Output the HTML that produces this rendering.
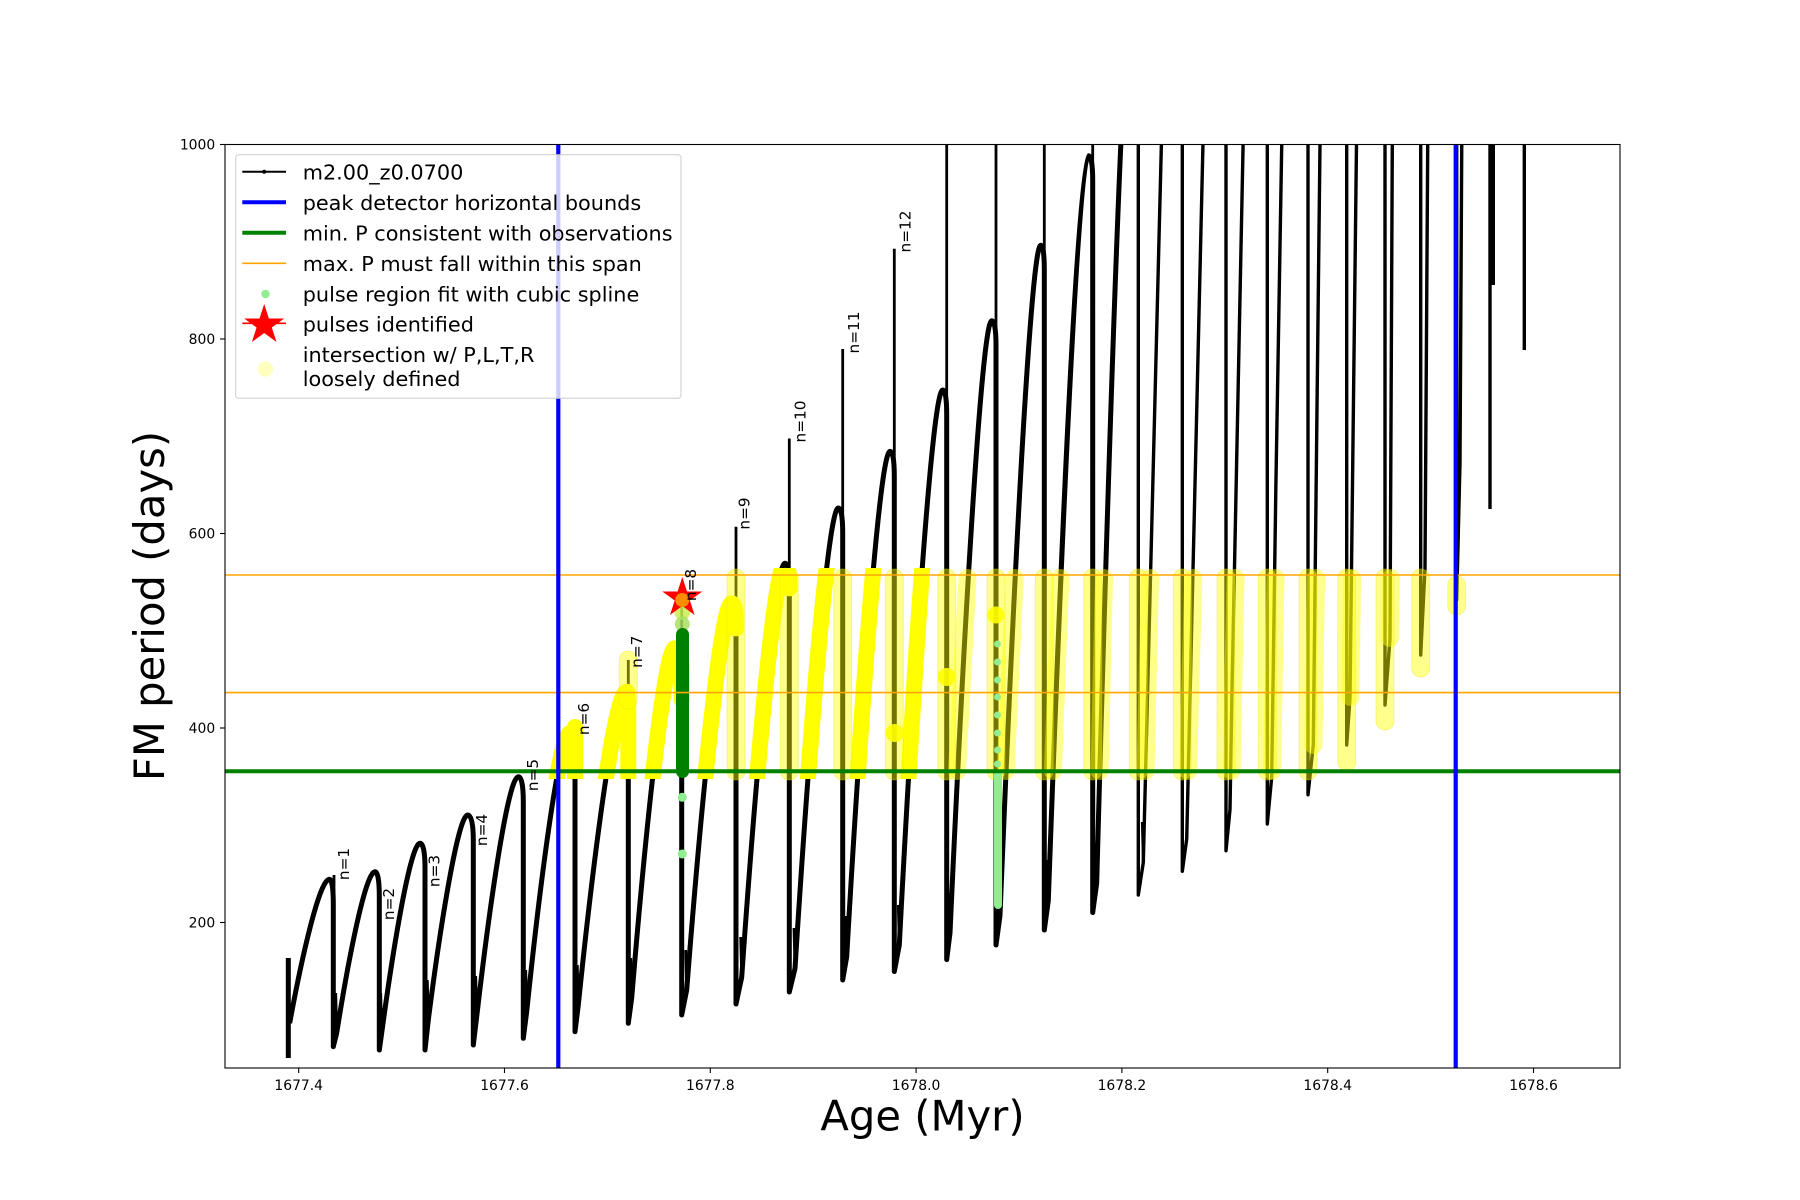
<!DOCTYPE html>
<html><head><meta charset="utf-8"><style>
html,body{margin:0;padding:0;background:#fff;}
svg{display:block;}
text{font-family:"DejaVu Sans","Liberation Sans",sans-serif;}
</style></head><body>
<svg width="1800" height="1200" viewBox="0 0 1800 1200" xmlns="http://www.w3.org/2000/svg">
<defs>
<clipPath id="ax"><rect x="225" y="144.5" width="1395" height="923.5"/></clipPath>
<clipPath id="band"><rect x="225" y="568" width="1395" height="211"/></clipPath>
</defs>
<rect width="1800" height="1200" fill="#fff"/>
<g clip-path="url(#ax)">
<path fill="none" stroke="#000" stroke-width="5" stroke-linejoin="round" d="M 288.3 958 L 288.3 1058 M 289.7 1023 C 301.6 958.3 319.4 879.3 329.3 879.3 C 331.7 879.3 333.3 887.3 333.3 904.3 L 333.3 1046.7 L 336.7 1033 C 348.2 960.4 365.4 871.7 375 871.7 C 377.6 871.7 379.3 879.7 379.3 896.7 L 379.3 1050 L 381.7 1033 C 393.2 947.6 410.4 843.3 420 843.3 C 423 843.3 425 851.3 425 868.3 L 425 1050 L 428.3 1020 C 440.1 927.8 457.9 815 467.7 815 C 471.1 815 473.3 823 473.3 840 L 473.3 1045 L 476.7 1016.7 C 489.2 908.7 507.9 776.7 518.3 776.7 C 521.3 776.7 523.3 784.7 523.3 801.7 L 523.3 1038.3 L 526.7 1011.7 C 539.7 886.4 559.2 733.3 570 733.3 C 573 733.3 575 741.3 575 758.3 L 575 1031.7 L 578.3 1005 C 592.8 864 614.6 691.7 626.7 691.7 C 627.7 691.7 628.3 699.7 628.3 716.7 L 628.3 1023.3 L 631.7 998 C 644.7 840.6 664.2 648.3 675 648.3 C 679 648.3 681.7 656.3 681.7 673.3 L 681.7 1015 L 686.7 990 C 700.2 816 720.5 603.4 731.7 603.4 C 734.3 603.4 736 611.4 736 628.4 L 736 1004 L 741.7 977.3 C 754.7 791 774.2 563.3 785 563.3 C 787.6 563.3 789.3 571.3 789.3 588.3 L 789.3 992 L 795 968.5 C 808 761.3 827.5 508 838.3 508 C 840.9 508 842.7 516 842.7 533 L 842.7 980 L 846.7 956.7 C 859.7 729.3 879.2 451.4 890 451.4 C 892.6 451.4 894.3 459.4 894.3 476.4 L 894.3 971.5 L 899.3 945 C 912.3 695.3 931.9 390 942.7 390 C 945.1 390 946.7 398 946.7 415 L 946.7 959.6 L 950 933 C 962.5 657.5 981.3 320.7 991.7 320.7 C 994.3 320.7 996 328.7 996 345.7 L 996 945 L 1000 915.5 C 1012.2 613.9 1030.5 245.3 1040.7 245.3 C 1042.9 245.3 1044.3 253.3 1044.3 270.3 L 1044.3 930 L 1048.3 900.8 C 1060.3 565.6 1078.3 155.8 1088.3 155.8 C 1091 155.8 1092.7 163.8 1092.7 180.8 L 1092.7 912.5 L 1096.7 883 C 1106 540 1117 200 1125 60"/>
<path fill="none" stroke="#000" stroke-width="3.4" stroke-linejoin="round" d="M 1138.3 100 L 1138.3 895 L 1143.3 862.5 C 1150 520 1157 250 1163 80 M 1182.3 100 L 1182.3 871.3 L 1186.7 839 C 1192 560 1198 300 1204 100 M 1226 100 L 1226 850.7 L 1230 809.5 C 1234 560 1239 300 1244 100 M 1267.3 100 L 1267.3 824 L 1271.7 777 C 1275 560 1278 300 1282.5 100 M 1308 100 L 1308 794.8 L 1313.3 744.7 C 1315.5 560 1318 300 1320.5 100 M 1346.7 100 L 1346.7 745 L 1350 697.6 C 1352 500 1354 300 1357 100 M 1385 100 L 1385 705 L 1390 638.7 L 1392.5 100 M 1420.7 100 L 1420.7 655 L 1425 568 L 1428 100 M 1456.7 100 L 1456.7 600 L 1460 462 L 1462 100 M 1490 100 L 1490 509 M 1493.3 100 L 1493.3 285 M 1524.3 100 L 1524.3 350"/>
<path fill="none" stroke="#000" stroke-width="2.8" d="M 334 1040 L 334 875 M 575 758 L 575 727 M 628.3 716 L 628.3 660 M 681.7 673 L 681.7 600 M 736 630 L 736 526.8 M 789.3 590 L 789.3 438.5 M 842.7 535 L 842.7 349 M 894.3 480 L 894.3 248.8 M 946.7 415 L 946.7 100 M 996 345 L 996 100 M 1044.3 270 L 1044.3 100 M 1092.7 180 L 1092.7 100 M 335.7 993 L 336.7 1033 M 380.7 993 L 381.7 1033 M 427.3 980 L 428.3 1020 M 475.7 976 L 476.7 1016.7 M 525.7 970 L 526.7 1011.7 M 577.3 965 L 578.3 1005 M 630.7 958 L 631.7 998 M 685.7 950 L 686.7 990 M 740.7 937 L 741.7 977.3 M 794 928 L 795 968.5 M 845.7 916 L 846.7 956.7 M 898.3 905 L 899.3 945 M 949 893 L 950 933 M 999 875 L 1000 915.5 M 1047.3 860 L 1048.3 900.8 M 1095.7 843 L 1096.7 883 M 1142.3 822 L 1143.3 862.5"/>

<g clip-path="url(#band)">
<path fill="none" stroke="#ffff00" stroke-width="16" stroke-linecap="round" stroke-linejoin="round" d="M 526.7 1011.7 C 539.7 886.4 559.2 733.3 570 733.3 C 573 733.3 575 741.3 575 758.3 L 575 790 M 575 758 L 575 727 M 578.3 1005 C 592.8 864 614.6 691.7 626.7 691.7 C 627.7 691.7 628.3 699.7 628.3 716.7 L 628.3 790 M 631.7 998 C 644.7 840.6 664.2 648.3 675 648.3 C 679 648.3 681.7 656.3 681.7 673.3 L 681.7 700 M 686.7 990 C 700.2 816 720.5 603.4 731.7 603.4 C 734.3 603.4 736 611.4 736 628.4 M 741.7 977.3 C 754.7 791 774.2 563.3 785 563.3 C 787.6 563.3 789.3 571.3 789.3 588.3 M 795 968.5 C 808 761.3 827.5 508 838.3 508 M 846.7 956.7 C 859.7 729.3 879.2 451.4 890 451.4 M 899.3 945 C 912.3 695.3 931.9 390 942.7 390"/>
</g>

<g fill="#ffff00" fill-opacity="0.45" stroke="#e6e600" stroke-opacity="0.35" stroke-width="1">
<rect x="619.3" y="651" width="18" height="58" rx="9"/>
<rect x="727" y="569" width="18" height="211" rx="9"/>
<rect x="780.3" y="569" width="18" height="211" rx="9"/>
<rect x="833.7" y="569" width="18" height="211" rx="9"/>
<rect x="885.3" y="569" width="18" height="211" rx="9"/>
<rect x="937.7" y="569" width="18" height="211" rx="9"/>
<rect x="987" y="569" width="18" height="211" rx="9"/>
<rect x="1035.3" y="569" width="18" height="211" rx="9"/>
<rect x="1083.7" y="569" width="18" height="211" rx="9"/>
<rect x="1129.3" y="569" width="18" height="211" rx="9"/>
<rect x="1173.3" y="569" width="18" height="211" rx="9"/>
<rect x="1217" y="569" width="18" height="211" rx="9"/>
<rect x="1258.3" y="569" width="18" height="211" rx="9"/>
<rect x="1299" y="569" width="18" height="211" rx="9"/>
<rect x="1337.7" y="569" width="18" height="202" rx="9"/>
<rect x="1376" y="569" width="18" height="161" rx="9"/>
<rect x="1411.7" y="569" width="18" height="108" rx="9"/>
<rect x="1447.7" y="576" width="18" height="39" rx="9"/>
</g>
<g stroke="#ffff00" stroke-opacity="0.45" stroke-width="18" stroke-linecap="round" fill="none">
<path d="M 957 771 L 967.5 578"/>
<path d="M 1005.7 771 L 1014.7 578"/>
<path d="M 1052.9 771 L 1060.3 578"/>
<path d="M 1099.5 771 L 1104 578"/>
<path d="M 1145.5 771 L 1150 578"/>
<path d="M 1188 771 L 1193.3 578"/>
<path d="M 1231.5 771 L 1235.5 578"/>
<path d="M 1272 771 L 1275.5 578"/>
<path d="M 1313.5 745 L 1316 578"/>
<path d="M 1350.5 697 L 1352 578"/>
<path d="M 1390 638 L 1390.7 578"/>
</g>
<g fill="#ffff00" fill-opacity="0.9">
<circle cx="894.8" cy="733" r="9"/>
<circle cx="946.7" cy="677" r="9"/>
<circle cx="996" cy="615" r="8.5"/>
</g>
<g fill="#90ee90">
<circle cx="997.5" cy="644" r="3.5"/>
<circle cx="997.5" cy="662" r="3.5"/>
<circle cx="997.5" cy="680" r="3.5"/>
<circle cx="997.5" cy="697" r="3.5"/>
<circle cx="997.5" cy="715" r="3.5"/>
<circle cx="997.5" cy="733" r="3.5"/>
<circle cx="997.5" cy="750" r="3.5"/>
<circle cx="997.5" cy="764" r="3.5"/>
<rect x="994" y="771" width="8" height="138" rx="4"/>
<circle cx="682.3" cy="797.3" r="4.5"/>
<circle cx="682.3" cy="854" r="4.5"/>
</g>
<circle cx="682.3" cy="612" r="8" fill="#c8f050" fill-opacity="0.85"/>
<circle cx="682.3" cy="624" r="7.5" fill="#a8e060" fill-opacity="0.85"/>
<rect x="676" y="628" width="13" height="150" rx="6.5" fill="#008000"/>

<line x1="225" y1="575" x2="1620" y2="575" stroke="#ffa500" stroke-width="1.6"/>
<line x1="225" y1="692.6" x2="1620" y2="692.6" stroke="#ffa500" stroke-width="1.6"/>
<line x1="225" y1="771.2" x2="1620" y2="771.2" stroke="#008000" stroke-width="4"/>
<line x1="558.3" y1="144" x2="558.3" y2="1068" stroke="#0000ff" stroke-width="4.2"/>
<line x1="1455.7" y1="144" x2="1455.7" y2="1068" stroke="#0000ff" stroke-width="4.2"/>

<polygon points="682.3,577 687,591.5 702.3,591.5 689.9,600.5 694.6,615 682.3,606 670,615 674.7,600.5 662.3,591.5 677.6,591.5" fill="#ff0000"/>
<circle cx="682.3" cy="600" r="7" fill="#ffa500" fill-opacity="0.85"/>
</g>

<g font-size="15.3" fill="#000" text-anchor="middle">
<text transform="translate(348.8,864) rotate(-90)">n=1</text>
<text transform="translate(393.8,904) rotate(-90)">n=2</text>
<text transform="translate(439.5,871) rotate(-90)">n=3</text>
<text transform="translate(487.2,830) rotate(-90)">n=4</text>
<text transform="translate(537.8,775) rotate(-90)">n=5</text>
<text transform="translate(588.8,719) rotate(-90)">n=6</text>
<text transform="translate(642.2,651.7) rotate(-90)">n=7</text>
<text transform="translate(696.2,585) rotate(-90)">n=8</text>
<text transform="translate(749.5,513.5) rotate(-90)">n=9</text>
<text transform="translate(805.5,421.5) rotate(-90)">n=10</text>
<text transform="translate(858.8,332.5) rotate(-90)">n=11</text>
<text transform="translate(910.5,231.5) rotate(-90)">n=12</text>
</g>

<rect x="225" y="144.5" width="1395" height="923.5" fill="none" stroke="#000" stroke-width="1.1"/>
<g stroke="#000" stroke-width="1.1">
<line x1="298.7" y1="1068" x2="298.7" y2="1073"/>
<line x1="504.5" y1="1068" x2="504.5" y2="1073"/>
<line x1="710.3" y1="1068" x2="710.3" y2="1073"/>
<line x1="916.1" y1="1068" x2="916.1" y2="1073"/>
<line x1="1121.9" y1="1068" x2="1121.9" y2="1073"/>
<line x1="1327.7" y1="1068" x2="1327.7" y2="1073"/>
<line x1="1533.5" y1="1068" x2="1533.5" y2="1073"/>
<line x1="220" y1="144.5" x2="225" y2="144.5"/>
<line x1="220" y1="339" x2="225" y2="339"/>
<line x1="220" y1="533.5" x2="225" y2="533.5"/>
<line x1="220" y1="728" x2="225" y2="728"/>
<line x1="220" y1="922.5" x2="225" y2="922.5"/>
</g>
<g font-size="13.9" fill="#000" text-anchor="middle">
<text x="298.7" y="1090">1677.4</text>
<text x="504.5" y="1090">1677.6</text>
<text x="710.3" y="1090">1677.8</text>
<text x="916.1" y="1090">1678.0</text>
<text x="1121.9" y="1090">1678.2</text>
<text x="1327.7" y="1090">1678.4</text>
<text x="1533.5" y="1090">1678.6</text>
</g>
<g font-size="13.9" fill="#000" text-anchor="end">
<text x="215.2" y="149.5">1000</text>
<text x="215.2" y="344">800</text>
<text x="215.2" y="538.5">600</text>
<text x="215.2" y="733">400</text>
<text x="215.2" y="927.5">200</text>
</g>
<text x="922.5" y="1130.5" font-size="41.7" text-anchor="middle" fill="#000">Age (Myr)</text>
<text transform="translate(164,606) rotate(-90)" font-size="41.7" text-anchor="middle" fill="#000">FM period (days)</text>

<rect x="235.7" y="154.7" width="445.3" height="243.6" rx="3" fill="#fff" fill-opacity="0.8" stroke="#cccccc" stroke-width="1"/>
<line x1="242.3" y1="171.7" x2="286" y2="171.7" stroke="#000" stroke-width="2"/>
<circle cx="264.2" cy="171.7" r="2" fill="#000"/>
<line x1="242.3" y1="202.3" x2="286" y2="202.3" stroke="#0000ff" stroke-width="4"/>
<line x1="242.3" y1="232.7" x2="286" y2="232.7" stroke="#008000" stroke-width="4"/>
<line x1="242.3" y1="263.3" x2="286" y2="263.3" stroke="#ffa500" stroke-width="1.6"/>
<circle cx="265.5" cy="294" r="4.2" fill="#90ee90"/>
<line x1="242.3" y1="323.3" x2="286" y2="323.3" stroke="#ff0000" stroke-width="1.6"/>
<polygon points="264.2,304 268.9,318.5 284.2,318.5 271.8,327.5 276.5,342 264.2,333 251.9,342 256.6,327.5 244.2,318.5 259.5,318.5" fill="#ff0000"/>
<circle cx="265.5" cy="369" r="7.8" fill="#ffffc0"/>
<g font-size="20.8" fill="#000">
<text x="302.7" y="179.5">m2.00_z0.0700</text>
<text x="302.7" y="210">peak detector horizontal bounds</text>
<text x="302.7" y="240.5">min. P consistent with observations</text>
<text x="302.7" y="271">max. P must fall within this span</text>
<text x="302.7" y="301.5">pulse region fit with cubic spline</text>
<text x="302.7" y="331.5">pulses identified</text>
<text x="302.7" y="362">intersection w/ P,L,T,R</text>
<text x="302.7" y="386">loosely defined</text>
</g>
</svg>
</body></html>
